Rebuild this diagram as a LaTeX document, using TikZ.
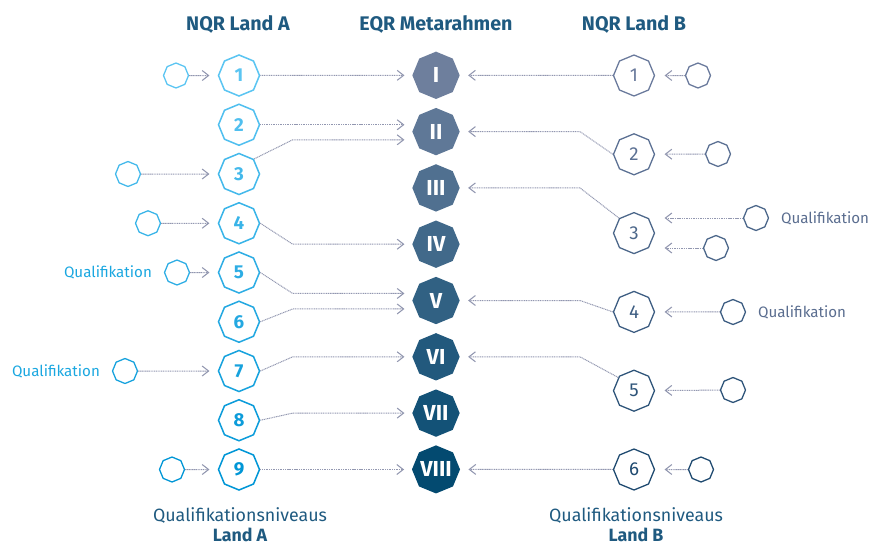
\documentclass[tikz,border=0pt]{standalone}
\usepackage{fontspec}
\setmainfont{Fira Sans}
\usetikzlibrary{shapes.geometric,arrows.meta}

\definecolor{headblue}{HTML}{1F5A80}
\definecolor{atop}{HTML}{5BC5F2}
\definecolor{abot}{HTML}{0096D6}
\definecolor{etop}{HTML}{6E7F9D}
\definecolor{ebot}{HTML}{034A70}
\definecolor{btop}{HTML}{6A7A9C}
\definecolor{bbot}{HTML}{1F4A70}
\definecolor{linkgray}{HTML}{9297B0}
\definecolor{quala}{HTML}{1AA7E0}
\definecolor{qualb}{HTML}{5A6D8F}

\tikzset{
  octa/.style={regular polygon, regular polygon sides=8, shape border rotate=22.5, inner sep=0pt},
  level a/.style={octa, draw=#1, text=#1, line width=1.3pt, minimum size=1.23cm,
    font=\fontsize{16}{16}\selectfont\bfseries},
  level eqr/.style={octa, fill=#1, text=white, minimum size=1.42cm,
    font=\fontsize{18.5}{18.5}\selectfont\bfseries},
  level b/.style={octa, draw=#1, text=#1, line width=1.1pt, minimum size=1.23cm,
    font=\fontsize{16}{16}\selectfont},
  qual/.style={octa, draw=#1, line width=1.1pt, minimum size=0.75cm},
  qual text/.style={text=#1, inner sep=0pt, font=\fontsize{12.9}{12.9}\selectfont},
  head/.style={text=headblue, inner sep=0pt, anchor=base, font=\fontsize{16.8}{16.8}\selectfont\bfseries},
  foot/.style={text=headblue, inner sep=0pt, anchor=base, font=\fontsize{15.2}{15.2}\selectfont},
  foot bold/.style={foot, font=\fontsize{15.2}{15.2}\selectfont\bfseries},
  link/.style={linkgray, line width=0.85pt, dash pattern=on 0.9pt off 0.6pt,
    -{Straight Barb[length=5.5pt,width=8.5pt,line width=0.9pt]}},
}

\begin{document}
\begin{tikzpicture}[x=0.03cm, y=-0.03cm]
  \useasboundingbox (0,0) rectangle (883,547);

  % headings
  \node[head] (hA) at (238,30.5) {NQR Land A};
  \node[head] (hE) at (436,30.5) {EQR Metarahmen};
  \node[head] (hB) at (634,30.5) {NQR Land B};

  % levels of country A
  \foreach \i in {1,...,9} {
    \pgfmathtruncatemacro\p{(\i-1)*100/8}
    \node[level a=abot!\p!atop] (a\i) at (239,75.5+49.25*\i-49.25) {\i};
  }
  % EQR
  \foreach \r [count=\i] in {I,II,III,IV,V,VI,VII,VIII} {
    \pgfmathtruncatemacro\p{(\i-1)*100/7}
    \node[level eqr=ebot!\p!etop] (e\i) at (436,75.3+56.3*\i-56.3) {\r};
  }
  % levels of country B
  \foreach \i in {1,...,6} {
    \pgfmathtruncatemacro\p{(\i-1)*100/5}
    \node[level b=bbot!\p!btop] (b\i) at (634,75.5+78.8*\i-78.8) {\i};
  }

  % qualifications A
  \foreach \i/\x in {1/176,3/128,4/148,5/177,7/125,9/172} {
    \pgfmathtruncatemacro\p{(\i-1)*100/8}
    \node[qual=abot!\p!atop] (qa\i) at (\x,75.5+49.25*\i-49.25) {};
    \draw[link, shorten >=7pt] (qa\i) -- (a\i);
  }
  \node[qual text=quala, anchor=east] (la5) at ([xshift=-10pt]qa5.west) {Qualifikation};
  \node[qual text=quala, anchor=east] (la7) at ([xshift=-10pt]qa7.west) {Qualifikation};

  % qualifications B
  \node[qual=btop] (qb1) at (698,75.5) {};
  \node[qual=bbot!20!btop] (qb2) at (718,154) {};
  \node[qual=bbot!40!btop] (qb3a) at (756,218) {};
  \node[qual=bbot!40!btop] (qb3b) at (716,248) {};
  \node[qual=bbot!60!btop] (qb4) at (733,312) {};
  \node[qual=bbot!80!btop] (qb5) at (733,390) {};
  \node[qual=bbot] (qb6) at (701,469.5) {};
  \node[qual text=qualb, anchor=west] (lb3) at ([xshift=10pt]qb3a.east) {Qualifikation};
  \node[qual text=qualb, anchor=west] (lb4) at ([xshift=10pt]qb4.east) {Qualifikation};
  \foreach \q/\i in {1/1,2/2,4/4,5/5,6/6}
    \draw[link, shorten >=8pt] (qb\q) -- (b\i);
  \draw[link, shorten >=8pt] (qb3a.west) -- (qb3a.west -| b3.east);
  \draw[link, shorten >=8pt] (qb3b.west) -- (qb3b.west -| b3.east);

  % A to EQR
  \coordinate (xa) at (292.7,0);
  \coordinate (xb) at (580,0);
  \draw[link, shorten >=6.5pt] (a1) -- (e1);
  \draw[link, shorten >=6.5pt] (a2.east) -- (a2.east -| e2.west);
  \draw[link, shorten >=6.5pt] (a9.east) -- (a9.east -| e8.west);
  \foreach \s/\t/\a/\d in {3/2/45/-7, 4/4/0/0, 5/5/0/6, 6/5/0/-7.2, 7/6/0/0, 8/7/0/0}
    \draw[link, shorten >=6.5pt] (a\s.\a) -- ([yshift=\d pt]xa |- e\t.west) -- ([yshift=\d pt]e\t.west);

  % B to EQR
  \draw[link, shorten >=7pt] (b1) -- (e1);
  \draw[link, shorten >=7pt] (b6) -- (e8);
  \foreach \s/\t/\a in {2/2/180, 3/3/135, 4/5/180, 5/6/140}
    \draw[link, shorten >=7pt] (b\s.\a) -- (xb |- e\t.east) -- (e\t.east);

  % bottom labels
  \node[foot] (fA) at (240,521) {Qualifikationsniveaus};
  \node[foot bold] (gA) at (240,541.5) {Land A};
  \node[foot] (fB) at (636,521) {Qualifikationsniveaus};
  \node[foot bold] (gB) at (636,541.5) {Land B};
\end{tikzpicture}
\end{document}
